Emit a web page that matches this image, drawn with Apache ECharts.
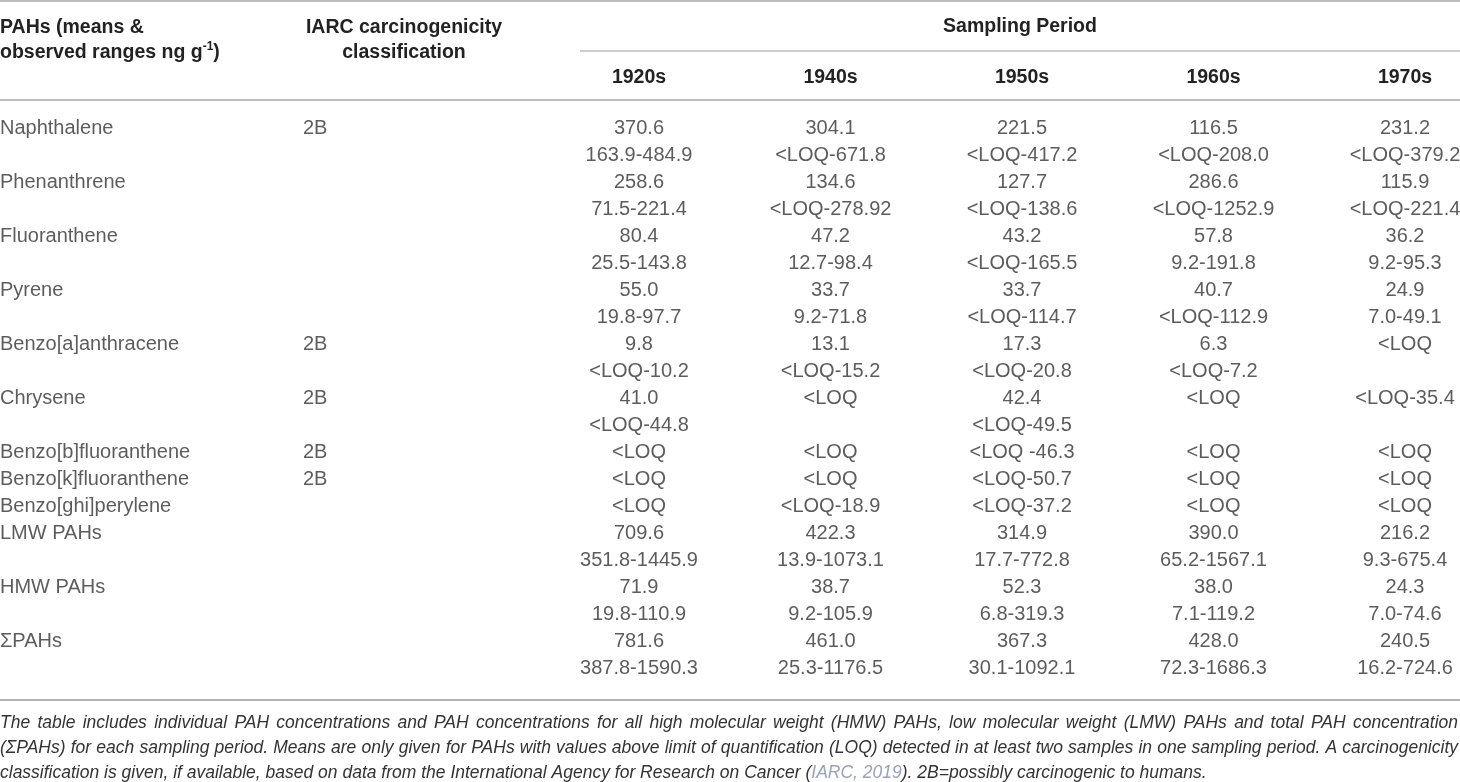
<!DOCTYPE html>
<html>
<head>
<meta charset="utf-8">
<script src="https://cdn.jsdelivr.net/npm/echarts@6/dist/echarts.min.js"></script>
<style>
  html, body { margin: 0; padding: 0; background: #fff; }
  #main { width: 1460px; height: 782px; }
</style>
</head>
<body>
<div id="main"></div>
<script>
// table contents
var compounds = ['Naphthalene', 'Phenanthrene', 'Fluoranthene', 'Pyrene', 'Benzo[a]anthracene', 'Chrysene',
  'Benzo[b]fluoranthene', 'Benzo[k]fluoranthene', 'Benzo[ghi]perylene', 'LMW PAHs', 'HMW PAHs', 'ΣPAHs'];
var iarcClass = ['2B', '', '', '', '2B', '2B', '2B', '2B', '', '', '', ''];
var periods = ['1920s', '1940s', '1950s', '1960s', '1970s'];

var means1920s = ['370.6', '258.6', '80.4', '55.0', '9.8', '41.0', '<LOQ', '<LOQ', '<LOQ', '709.6', '71.9', '781.6'];
var ranges1920s = ['163.9-484.9', '71.5-221.4', '25.5-143.8', '19.8-97.7', '<LOQ-10.2', '<LOQ-44.8', '', '', '', '351.8-1445.9', '19.8-110.9', '387.8-1590.3'];
var means1940s = ['304.1', '134.6', '47.2', '33.7', '13.1', '<LOQ', '<LOQ', '<LOQ', '<LOQ-18.9', '422.3', '38.7', '461.0'];
var ranges1940s = ['<LOQ-671.8', '<LOQ-278.92', '12.7-98.4', '9.2-71.8', '<LOQ-15.2', '', '', '', '', '13.9-1073.1', '9.2-105.9', '25.3-1176.5'];
var means1950s = ['221.5', '127.7', '43.2', '33.7', '17.3', '42.4', '<LOQ -46.3', '<LOQ-50.7', '<LOQ-37.2', '314.9', '52.3', '367.3'];
var ranges1950s = ['<LOQ-417.2', '<LOQ-138.6', '<LOQ-165.5', '<LOQ-114.7', '<LOQ-20.8', '<LOQ-49.5', '', '', '', '17.7-772.8', '6.8-319.3', '30.1-1092.1'];
var means1960s = ['116.5', '286.6', '57.8', '40.7', '6.3', '<LOQ', '<LOQ', '<LOQ', '<LOQ', '390.0', '38.0', '428.0'];
var ranges1960s = ['<LOQ-208.0', '<LOQ-1252.9', '9.2-191.8', '<LOQ-112.9', '<LOQ-7.2', '', '', '', '', '65.2-1567.1', '7.1-119.2', '72.3-1686.3'];
var means1970s = ['231.2', '115.9', '36.2', '24.9', '<LOQ', '<LOQ-35.4', '<LOQ', '<LOQ', '<LOQ', '216.2', '24.3', '240.5'];
var ranges1970s = ['<LOQ-379.2', '<LOQ-221.4', '9.2-95.3', '7.0-49.1', '', '', '', '', '', '9.3-675.4', '7.0-74.6', '16.2-724.6'];

var footnote = [
  'The table includes individual PAH concentrations and PAH concentrations for all high molecular weight (HMW) PAHs, low molecular weight (LMW) PAHs and total PAH concentration',
  '(ΣPAHs) for each sampling period. Means are only given for PAHs with values above limit of quantification (LOQ) detected in at least two samples in one sampling period. A carcinogenicity',
  'classification is given, if available, based on data from the International Agency for Research on Cancer ({link|IARC, 2019}). 2B=possibly carcinogenic to humans.'
];

var allMeans = [means1920s, means1940s, means1950s, means1960s, means1970s];
var allRanges = [ranges1920s, ranges1940s, ranges1950s, ranges1960s, ranges1970s];

// each compound takes one text line, or two when a range is given
var labelCells = [];
var valueCells = [];
var line = 0;
compounds.forEach(function (name, i) {
  labelCells.push([0, line, name]);
  if (iarcClass[i]) labelCells.push([1, line, iarcClass[i]]);
  var hasRange = false;
  allMeans.forEach(function (means, p) {
    valueCells.push([p, line, means[i]]);
    if (allRanges[p][i]) {
      valueCells.push([p, line + 1, allRanges[p][i]]);
      hasRange = true;
    }
  });
  line += hasRange ? 2 : 1;
});
var lastLine = line - 1;

var FONT = '"Liberation Sans", Arial, Helvetica, sans-serif';
var TEXT = '#333333';
var RULE = '#bdbdbd';
var NOTE_SIZE = 17.5;

function cellSeries(name, data, xi, align) {
  return {
    name: name,
    type: 'scatter',
    xAxisIndex: xi,
    yAxisIndex: xi,
    symbolSize: 1,
    silent: true,
    itemStyle: { color: 'rgba(0,0,0,0)' },
    data: data,
    label: {
      show: true,
      position: 'inside',
      align: align,
      verticalAlign: 'middle',
      fontFamily: FONT,
      fontSize: 20,
      color: TEXT,
      formatter: function (p) { return p.data[2]; }
    }
  };
}

function headText(text, x, y, align, bold, rich) {
  return {
    type: 'text',
    x: x, y: y,
    silent: true,
    style: {
      text: text,
      fontFamily: FONT,
      fontSize: 19.5,
      fontWeight: bold ? 'bold' : 'normal',
      fill: '#222',
      align: align, verticalAlign: 'middle',
      textAlign: align, textVerticalAlign: 'middle',
      rich: rich
    }
  };
}

function noteText(text, x, y, rich) {
  return {
    type: 'text',
    x: x, y: y,
    silent: true,
    style: {
      text: text,
      fontFamily: FONT,
      fontSize: NOTE_SIZE,
      fontStyle: 'italic',
      fill: TEXT,
      align: 'left', verticalAlign: 'middle',
      textAlign: 'left', textVerticalAlign: 'middle',
      rich: rich
    }
  };
}

function rule(x1, x2, y, color, w) {
  return { type: 'line', silent: true, shape: { x1: x1, y1: y, x2: x2, y2: y }, style: { stroke: color, lineWidth: w } };
}

var graphics = [
  rule(0, 1460, 1, RULE, 2),
  rule(580, 1460, 51, RULE, 1.5),
  rule(0, 1460, 100, RULE, 2),
  rule(0, 1460, 700, '#999', 1.5),
  headText('PAHs (means &', 0, 28, 'left', true),
  headText('observed ranges ng g{sup|-1})', 0, 53, 'left', true, {
    sup: { fontFamily: FONT, fontSize: 12, fontWeight: 'bold', fill: '#222', verticalAlign: 'top', lineHeight: 24 }
  }),
  headText('IARC carcinogenicity', 404, 28, 'center', true),
  headText('classification', 404, 53, 'center', true),
  headText('Sampling Period', 1020, 27, 'center', true)
];

periods.forEach(function (p, i) {
  graphics.push(headText(p, 639 + i * 191.5, 78, 'center', true));
});

// justified footnote: spread words of the first lines across the full width
var ctx = document.createElement('canvas').getContext('2d');
ctx.font = 'italic ' + NOTE_SIZE + 'px ' + FONT;
footnote.forEach(function (t, i) {
  var y = 723 + i * 25;
  if (i === footnote.length - 1) {
    graphics.push(noteText(t, 0, y, {
      link: { fontFamily: FONT, fontSize: NOTE_SIZE, fontStyle: 'italic', fill: '#98a3b7' }
    }));
    return;
  }
  var words = t.split(' ');
  var widths = words.map(function (w) { return ctx.measureText(w).width; });
  var total = widths.reduce(function (a, b) { return a + b; }, 0);
  var gap = (1458 - total) / (words.length - 1);
  var x = 0;
  words.forEach(function (w, k) {
    graphics.push(noteText(w, x, y));
    x += widths[k] + gap;
  });
});

var option = {
  animation: false,
  grid: [
    { left: 0, width: 303, top: 128, bottom: 782 - (128 + lastLine * 27) },
    { left: 639, width: 766, top: 128, bottom: 782 - (128 + lastLine * 27) }
  ],
  xAxis: [
    { type: 'category', gridIndex: 0, data: ['name', 'iarc'], boundaryGap: false, show: false },
    { type: 'category', gridIndex: 1, data: periods, boundaryGap: false, show: false }
  ],
  yAxis: [
    { type: 'value', gridIndex: 0, min: 0, max: lastLine, inverse: true, show: false },
    { type: 'value', gridIndex: 1, min: 0, max: lastLine, inverse: true, show: false }
  ],
  series: [
    cellSeries('labels', labelCells, 0, 'left'),
    cellSeries('values', valueCells, 1, 'center')
  ],
  graphic: graphics
};

echarts.init(document.getElementById('main')).setOption(option);
</script>
</body>
</html>
